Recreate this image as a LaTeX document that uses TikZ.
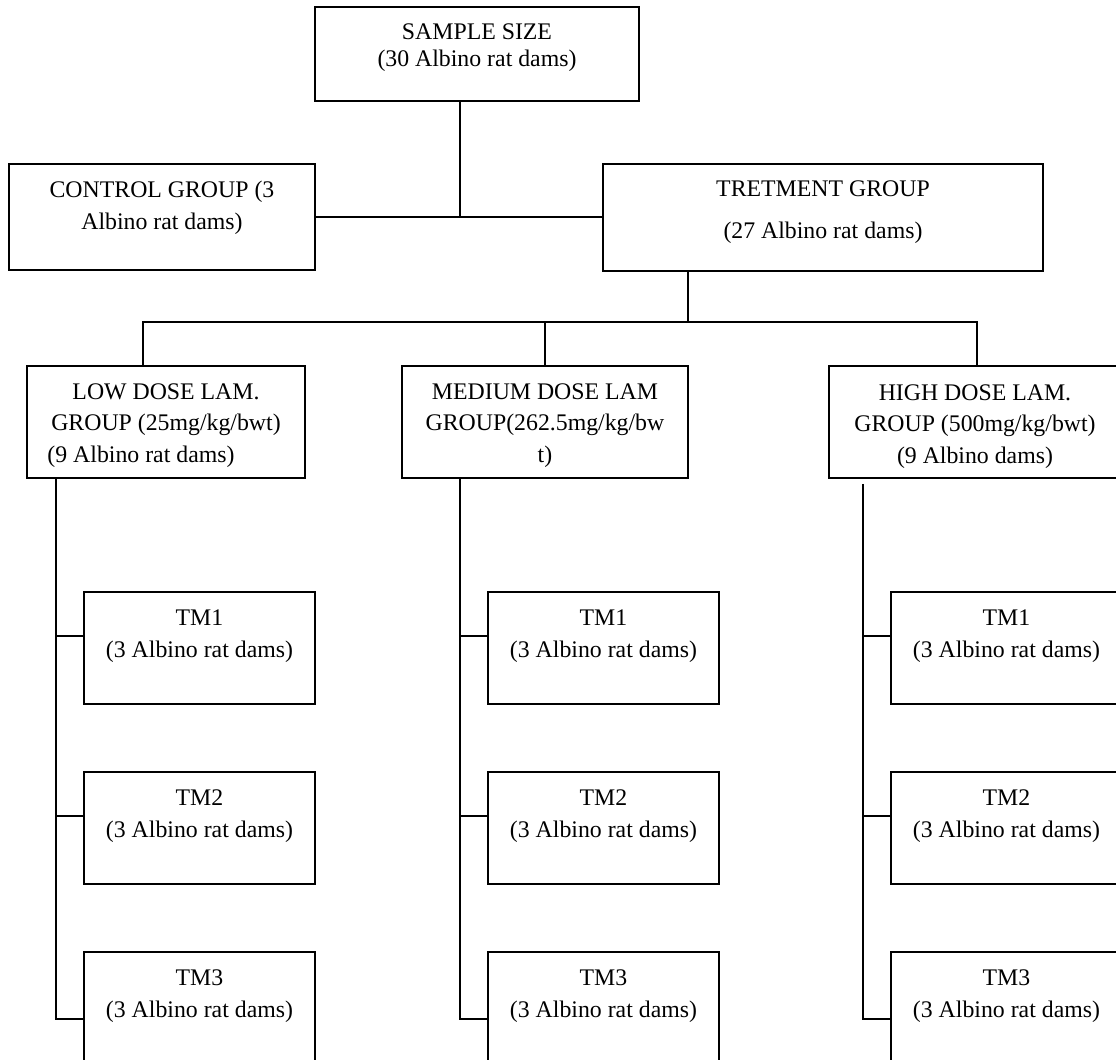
\documentclass[tikz,border=0pt]{standalone}
\usepackage{fontspec}
\setmainfont{Liberation Serif}
\newcommand{\boxtext}[5]{\parbox[c][#2][t]{#1}{\fontsize{11.9pt}{#4}\selectfont\centering\rule{0pt}{#3}#5}}

\begin{document}
\begin{tikzpicture}[x=0.5pt, y=-0.5pt,
    box/.style={draw, line width=0.8pt, inner sep=0pt},
    link/.style={line width=0.8pt}]
      \useasboundingbox (0,0) rectangle (1116,1060);
      \node[box] (sample) at (477,54) {\boxtext{162pt}{47pt}{16.5pt}{13.5pt}{SAMPLE SIZE\\(30 Albino rat dams)}};
      \node[box] (control) at (162,217) {\boxtext{153pt}{53pt}{16.5pt}{16pt}{CONTROL GROUP (3\\Albino rat dams)}};
      \node[box] (treat) at (823,217.5) {\boxtext{220pt}{53.5pt}{16pt}{21pt}{TRETMENT GROUP\\(27 Albino rat dams)}};
        \node[box] (low) at (166,422) {\boxtext{139pt}{56pt}{16.5pt}{15.75pt}{LOW DOSE LAM.\\GROUP (25mg/kg/bwt)\\(9 Albino rat dams)\hspace*{25pt}}};
        \node[box] (med) at (545,422) {\boxtext{143pt}{56pt}{16.5pt}{15.75pt}{MEDIUM DOSE LAM\\GROUP(262.5mg/kg/bw\\t)}};
        \node[box] (high) at (975,422) {\boxtext{146pt}{56pt}{17pt}{15.75pt}{HIGH DOSE LAM.\\GROUP (500mg/kg/bwt)\\(9 Albino dams)}};
      % treatment subgroups
      \foreach \grp/\cx in {low/199.5, med/603.5, high/1006.5}
        \foreach \i/\cy in {1/648, 2/828, 3/1008}
          \node[box] (\grp tm\i) at (\cx,\cy) {\boxtext{115.5pt}{56pt}{16.5pt}{16pt}{TM\i\\(3 Albino rat dams)}};
      % connectors
      \coordinate (j1) at (460,217);
      \coordinate (j2) at (688,322);
      \coordinate (jl) at (143,322);
      \coordinate (jh) at (977,322);
      \draw[link] (control.east) -- (control.east -| treat.west);
      \draw[link] (sample.south -| j1) -- (j1);
      \draw[link] (treat.south -| j2) -- (j2);
      \draw[link] (jl |- low.north) -- (jl) -- (jh) -- (jh |- high.north);
      \draw[link] (med.north) -- (med.north |- jl);
      \foreach \grp/\lx/\gap in {low/56/0, med/460/0, high/863/2.5} {
        \coordinate (\grp end) at (\lx,1019);
        \draw[link, shorten <=\gap pt] (\grp end |- \grp.south) -- (\grp end) -- (\grp end -| \grp tm3.west);
        \draw[link] ([yshift=6pt]\grp tm1.west) -- ([yshift=6pt]\grp tm1.west -| \grp end);
        \draw[link] ([yshift=6pt]\grp tm2.west) -- ([yshift=6pt]\grp tm2.west -| \grp end);
      }
    \end{tikzpicture}
\end{document}
